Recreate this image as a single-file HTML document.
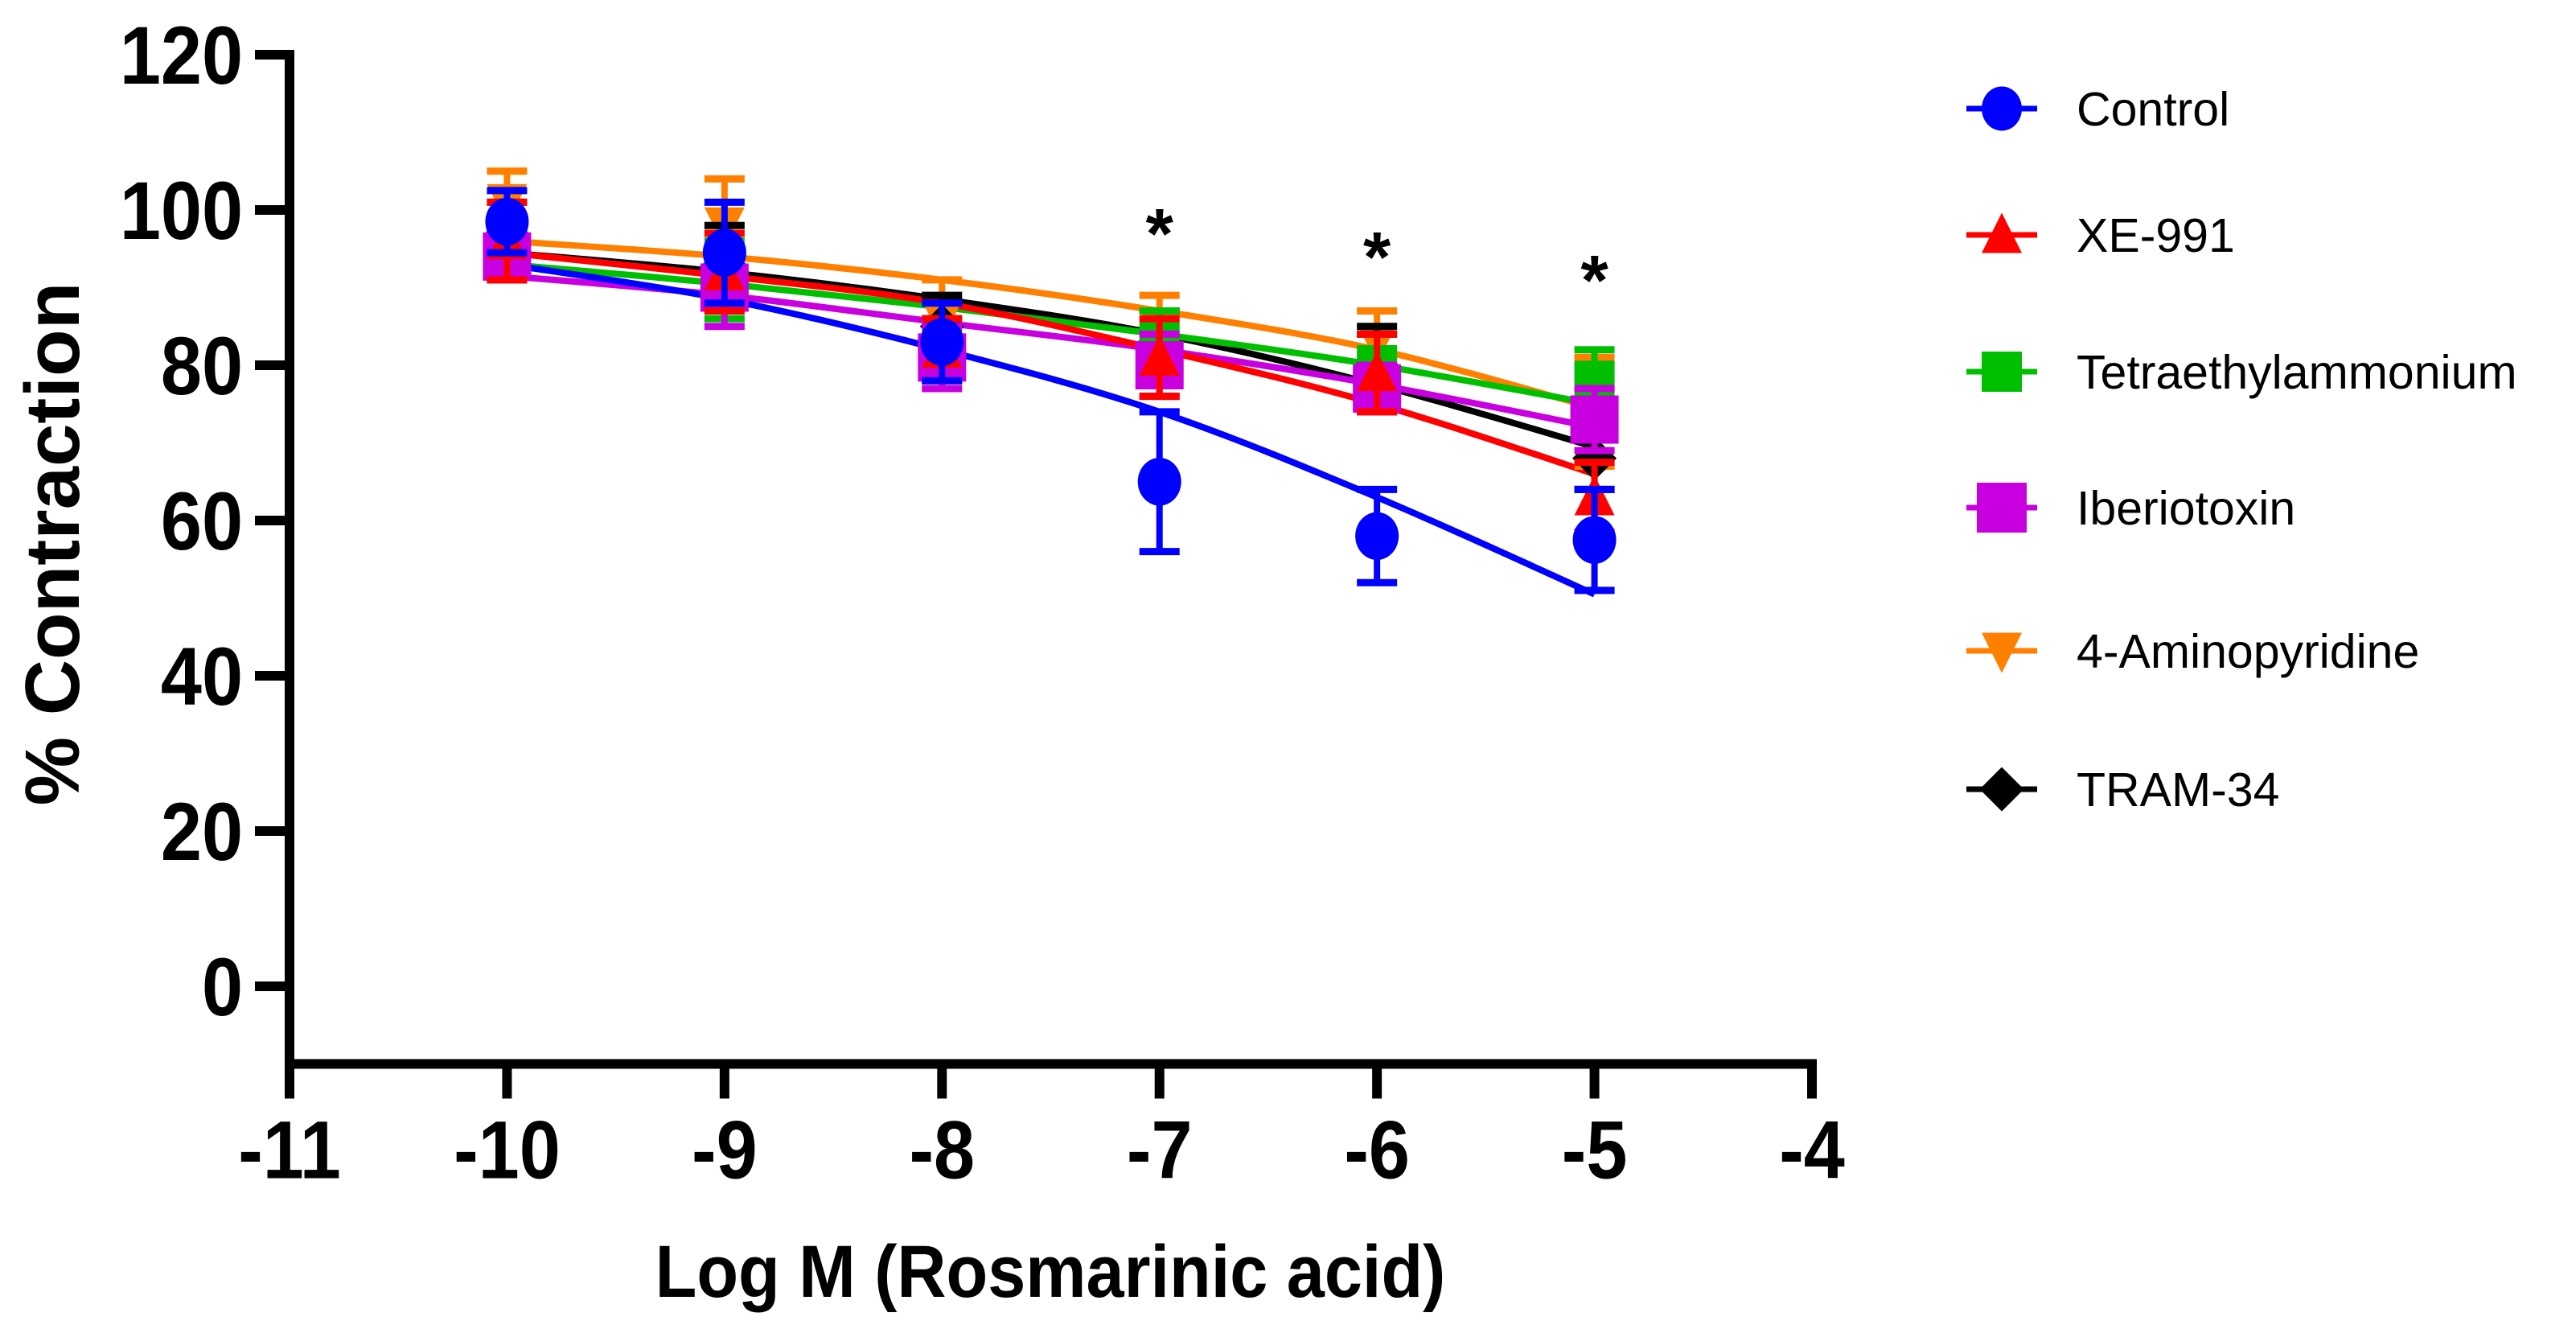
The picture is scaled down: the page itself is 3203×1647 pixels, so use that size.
<!DOCTYPE html>
<html><head><meta charset="utf-8"><style>
html,body{margin:0;padding:0;background:#fff;}
svg{display:block;font-family:"Liberation Sans",Arial,sans-serif;}
</style></head><body>
<svg id="chart" width="3203" height="1647" viewBox="0 0 3203 1647" xmlns="http://www.w3.org/2000/svg">
<g id="axes"></g>
<g id="series"></g>
<g id="legend"></g>
</svg>
<script>
const xValues = [-10, -9, -8, -7, -6, -5];
const xTicks = [-11, -10, -9, -8, -7, -6, -5, -4];
const yTicks = [0, 20, 40, 60, 80, 100, 120];
const seriesNames = ["Control", "XE-991", "Tetraethylammonium", "Iberiotoxin", "4-Aminopyridine", "TRAM-34"];
const controlMean = [98.5, 94.5, 83, 65, 58, 57.5];
const controlErr = [4, 6.5, 5, 9, 6, 6.5];
const controlFit = [93, 88.5, 82, 74, 63, 50.5];
const xeMean = [96, 92, 82, 81, 79, 63];
const xeErr = [5, 5, 4, 5, 5, 4.5];
const xeFit = [94.5, 91.5, 88, 82, 75, 66];
const teaMean = [96, 91, 82, 83, 80, 78];
const teaErr = [5, 5, 4, 4, 4, 4];
const teaFit = [93, 90.5, 87.5, 84, 80, 75];
const ibtxMean = [94, 90, 81, 80, 77, 73];
const ibtxErr = [3, 5, 4, 4, 3, 4];
const ibtxFit = [91.5, 89, 85.5, 82, 77.5, 72];
const apMean = [101, 98, 86, 85, 83, 74];
const apErr = [4, 6, 5, 4, 4, 7];
const apFit = [96, 94, 91, 87, 82, 74.5];
const tramMean = [97, 93, 85, 83, 80, 68];
const tramErr = [4, 5, 4, 4, 5, 4];
const tramFit = [94.5, 92, 88.5, 84, 77.5, 69.5];
const starX = [-7, -6, -5];
const starY = [99, 96, 93];

const NS = "http://www.w3.org/2000/svg";
const X0 = 360, X1 = 2253, Y0 = 1226, YPER = 9.65;
function sx(v){ return X0 + (v - (-11)) * (X1 - X0) / 7; }
function sy(v){ return Y0 - v * YPER; }
function mk(tag, attrs, parent){
  const e = document.createElementNS(NS, tag);
  for (const k in attrs) e.setAttribute(k, attrs[k]);
  parent.appendChild(e); return e;
}
const axes = document.getElementById('axes');
const ser = document.getElementById('series');
const leg = document.getElementById('legend');

const yLine = mk('line', {x1:X0, y1:sy(120)-6, x2:X0, y2:sy(-10)+6, stroke:'#000','stroke-width':12}, axes);


const xLine = mk('line', {x1:X0-6, y1:sy(-10), x2:X1+6, y2:sy(-10), stroke:'#000','stroke-width':12}, axes);


yTicks.forEach(t => {
  const l = mk('line', {x1:X0-43, y1:sy(t), x2:X0, y2:sy(t), stroke:'#000','stroke-width':12}, axes);
  
  
  const tx = mk('text', {x:0, y:0, transform:`translate(${X0-58},${sy(t)+36}) scale(0.9,1)`, 'text-anchor':'end','font-size':102,'font-weight':'bold'}, axes);
  tx.textContent = t;
  
  
});
xTicks.forEach(t => {
  const l = mk('line', {x1:sx(t), y1:sy(-10), x2:sx(t), y2:sy(-10)+43, stroke:'#000','stroke-width':12}, axes);
  
  
  const tx = mk('text', {x:0, y:0, transform:`translate(${sx(t)},${sy(-10)+142}) scale(0.9,1)`, 'text-anchor':'middle','font-size':102,'font-weight':'bold'}, axes);
  tx.textContent = t;
  
  
});
const xt = mk('text', {x:0, y:0, transform:'translate(1306,1612) scale(0.92,1)', 'text-anchor':'middle','font-size':92,'font-weight':'bold'}, axes);
xt.textContent = 'Log M (Rosmarinic acid)';


const yt = mk('text', {x:0, y:0, transform:'translate(98,676) rotate(-90)', 'text-anchor':'middle','font-size':96,'font-weight':'bold'}, axes);
yt.textContent = '% Contraction';



const colors = ['#0000ff', '#ff0000', '#00bf00', '#c800e0', '#ff8000', '#000000'];
const shapes = ['circle', 'tri', 'square', 'square', 'dtri', 'diamond'];
const means = [controlMean, xeMean, teaMean, ibtxMean, apMean, tramMean];
const errs = [controlErr, xeErr, teaErr, ibtxErr, apErr, tramErr];
const fits = [controlFit, xeFit, teaFit, ibtxFit, apFit, tramFit];

function smoothPath(pts){
  let d = 'M' + pts[0][0] + ',' + pts[0][1];
  for (let i = 0; i < pts.length - 1; i++){
    const p0 = pts[Math.max(0,i-1)], p1 = pts[i], p2 = pts[i+1], p3 = pts[Math.min(pts.length-1,i+2)];
    const c1 = [p1[0] + (p2[0]-p0[0])/6, p1[1] + (p2[1]-p0[1])/6];
    const c2 = [p2[0] - (p3[0]-p1[0])/6, p2[1] - (p3[1]-p1[1])/6];
    d += ' C' + c1 + ' ' + c2 + ' ' + p2;
  }
  return d;
}
function marker(shape, cx, cy, r, color, parent){
  if (shape === 'circle') return mk('ellipse', {cx:cx, cy:cy, rx:r, ry:r*1.1, fill:color}, parent);
  if (shape === 'square') return mk('rect', {x:cx-r, y:cy-r, width:2*r, height:2*r, fill:color}, parent);
  if (shape === 'tri') return mk('polygon', {points:`${cx},${cy-r*1.1} ${cx+r},${cy+r*0.9} ${cx-r},${cy+r*0.9}`, fill:color}, parent);
  if (shape === 'dtri') return mk('polygon', {points:`${cx},${cy+r*1.1} ${cx+r},${cy-r*0.9} ${cx-r},${cy-r*0.9}`, fill:color}, parent);
  return mk('polygon', {points:`${cx},${cy-r*1.1} ${cx+r*1.1},${cy} ${cx},${cy+r*1.1} ${cx-r*1.1},${cy}`, fill:color}, parent);
}
const drawOrder = [4, 5, 2, 3, 1, 0];
drawOrder.forEach(i => {
  const pts = xValues.map((x, j) => [sx(x), sy(fits[i][j])]);
  const p = mk('path', {d:smoothPath(pts), fill:'none', stroke:colors[i], 'stroke-width':8}, ser);
  
  
});
drawOrder.forEach(i => {
  xValues.forEach((x, j) => {
    const cx = sx(x), m = means[i][j], e = errs[i][j];
    const g = mk('g', {}, ser);
    
    
    mk('line', {x1:cx, y1:sy(m+e), x2:cx, y2:sy(m-e), stroke:colors[i], 'stroke-width':8}, g);
    mk('line', {x1:cx-25, y1:sy(m+e), x2:cx+25, y2:sy(m+e), stroke:colors[i], 'stroke-width':9}, g);
    mk('line', {x1:cx-25, y1:sy(m-e), x2:cx+25, y2:sy(m-e), stroke:colors[i], 'stroke-width':9}, g);
    const r = i === 3 ? 30 : (i === 0 ? 27 : 25);
    const mm = marker(shapes[i], cx, sy(m), r, colors[i], ser);
    
    
  });
});
starX.forEach((x, j) => {
  const s = mk('text', {x:sx(x), y:sy(starY[j])+50, 'text-anchor':'middle','font-size':88,'font-weight':'bold'}, ser);
  s.textContent = '*';
  
  
});
const legY = [135, 292, 462, 631, 809, 981];
seriesNames.forEach((n, i) => {
  const g = mk('g', {}, leg);
  
  
  mk('line', {x1:2445, y1:legY[i], x2:2533, y2:legY[i], stroke:colors[i], 'stroke-width':7}, g);
  marker(shapes[i], 2489, legY[i], i === 3 ? 31 : 25, colors[i], g);
  const t = mk('text', {x:2582, y:legY[i]+21, 'font-size':59}, g);
  t.textContent = n;
});
</script>
</body></html>
